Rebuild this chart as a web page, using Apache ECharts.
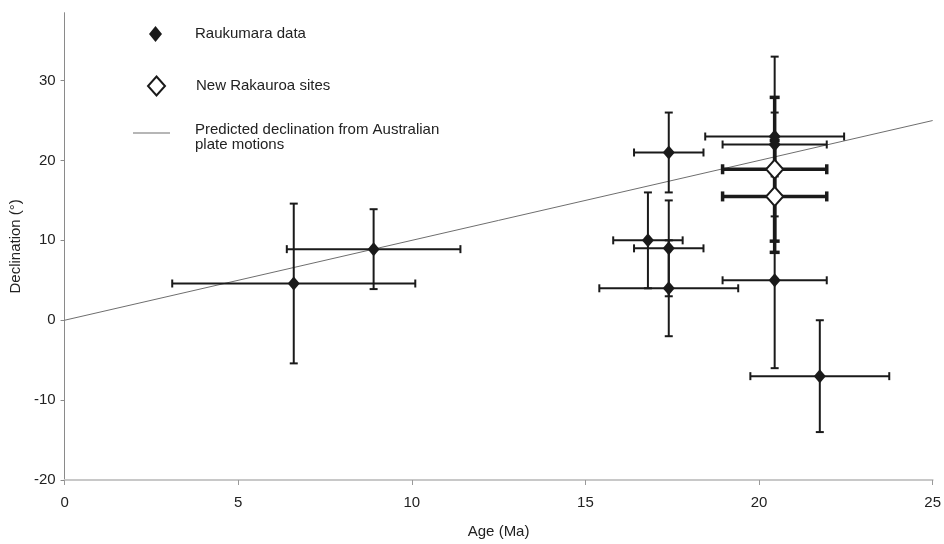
<!DOCTYPE html>
<html>
<head>
<meta charset="utf-8">
<script src="https://cdn.jsdelivr.net/npm/echarts@6/dist/echarts.min.js"></script>
<style>
  html, body { margin: 0; padding: 0; background: #fff; }
  #chart { width: 944px; height: 544px; }
</style>
</head>
<body>
<div id="chart"></div>
<script>
// Raukumara palaeomagnetic declinations (age ± error, declination with lower/upper bounds)
const raukAge      = [6.6, 8.9, 16.8, 17.4, 17.4, 17.4, 20.45, 20.45, 20.45, 21.75];
const raukDecl     = [4.6, 8.9, 10, 21, 9, 4, 23, 22, 5, -7];
const raukAgeErr   = [3.5, 2.5, 1, 1, 1, 2, 2, 1.5, 1.5, 2];
const raukDeclLow  = [-5.4, 3.9, 4, 16, 3, -2, 13, 18, -6, -14];
const raukDeclHigh = [14.6, 13.9, 16, 26, 15, 10, 33, 26, 16, 0];

// New Rakauroa sites
const siteAge      = [20.45, 20.45];
const siteDecl     = [18.9, 15.5];
const siteAgeErr   = [1.5, 1.5];
const siteDeclLow  = [9.9, 8.5];
const siteDeclHigh = [27.9, 22.5];

// Predicted declination from Australian plate motions
const predAge  = [0, 25];
const predDecl = [0, 25];

// Axis ticks
const xTicks = [0, 5, 10, 15, 20, 25];
const yTicks = [-20, -10, 0, 10, 20, 30];

const FONT = "'Liberation Sans', Arial, sans-serif";
const INK = '#1a1a1a';

function rows(age, decl, err, lo, hi) {
  return age.map((a, i) => [a, decl[i], err[i], lo[i], hi[i]]);
}

// Cross-shaped error bars with end caps, positioned through the axes
function errorBars(lineWidth, capHalf) {
  return function (params, api) {
    const x = api.value(0), y = api.value(1), xe = api.value(2);
    const lo = api.value(3), hi = api.value(4);
    const l = api.coord([x - xe, y]);
    const r = api.coord([x + xe, y]);
    const b = api.coord([x, lo]);
    const t = api.coord([x, hi]);
    const style = { stroke: INK, lineWidth: lineWidth };
    const seg = (x1, y1, x2, y2) => ({ type: 'line', shape: { x1, y1, x2, y2 }, style });
    return {
      type: 'group',
      children: [
        seg(l[0], l[1], r[0], r[1]),
        seg(b[0], b[1], t[0], t[1]),
        seg(l[0], l[1] - capHalf, l[0], l[1] + capHalf),
        seg(r[0], r[1] - capHalf, r[0], r[1] + capHalf),
        seg(b[0] - capHalf, b[1], b[0] + capHalf, b[1]),
        seg(t[0] - capHalf, t[1], t[0] + capHalf, t[1])
      ]
    };
  };
}

const chart = echarts.init(document.getElementById('chart'), null, { renderer: 'canvas' });

const legendText = { fontFamily: FONT, fontSize: 15, color: '#222' };

chart.setOption({
  animation: false,
  backgroundColor: '#fff',
  textStyle: { fontFamily: FONT },
  grid: { left: 63, right: 10, top: 12.7, bottom: 59, containLabel: false },
  legend: [
    {
      data: ['Raukumara data'],
      left: 149, top: 26, padding: 0, itemWidth: 13, itemHeight: 16,
      textStyle: Object.assign({}, legendText, { padding: [0, 0, 0, 28] })
    },
    {
      data: ['New Rakauroa sites'],
      left: 147, top: 75.5, padding: 0, itemWidth: 17, itemHeight: 19,
      textStyle: Object.assign({}, legendText, { padding: [0, 0, 0, 26] })
    },
    {
      data: [{ name: 'Predicted declination from Australian plate motions', icon: 'rect' }],
      left: 133, top: 113.5, padding: 0, itemWidth: 37, itemHeight: 1,
      // a short blank first line sets the two text lines slightly below the sample line
      formatter: () => '{gap| }\nPredicted declination from Australian\nplate motions',
      textStyle: Object.assign({}, legendText, {
        lineHeight: 15, padding: [0, 0, 0, 20],
        rich: { gap: { fontSize: 1, lineHeight: 9, height: 9 } }
      })
    }
  ],
  xAxis: {
    type: 'value',
    min: 0, max: 25, interval: 5,
    name: 'Age (Ma)',
    nameLocation: 'middle',
    nameGap: 44,
    nameTextStyle: { fontFamily: FONT, fontSize: 15, color: '#222' },
    axisLine: { onZero: false, lineStyle: { color: '#c8c8c8', width: 2 } },
    axisTick: { show: true, length: 5, lineStyle: { color: '#9a9a9a', width: 1 } },
    axisLabel: { fontFamily: FONT, fontSize: 15, color: '#222', margin: 15, customValues: xTicks },
    splitLine: { show: false }
  },
  yAxis: {
    type: 'value',
    min: -20, max: 38.5,
    name: 'Declination (°)',
    nameLocation: 'middle',
    nameGap: 36,
    nameTextStyle: { fontFamily: FONT, fontSize: 15, color: '#222' },
    axisLine: { onZero: false, lineStyle: { color: '#8a8a8a', width: 1 } },
    axisTick: { show: true, length: 4, lineStyle: { color: '#8a8a8a', width: 1 }, customValues: yTicks },
    axisLabel: { fontFamily: FONT, fontSize: 15, color: '#222', margin: 9, customValues: yTicks },
    splitLine: { show: false }
  },
  series: [
    {
      name: 'Predicted declination from Australian plate motions',
      type: 'line',
      data: predAge.map((a, i) => [a, predDecl[i]]),
      symbol: 'none',
      lineStyle: { color: '#6e6e6e', width: 1 },
      itemStyle: { color: '#6e6e6e' },
      z: 1
    },
    {
      name: 'Raukumara bars',
      type: 'custom',
      renderItem: errorBars(2, 4),
      data: rows(raukAge, raukDecl, raukAgeErr, raukDeclLow, raukDeclHigh),
      encode: { x: 0, y: 1 },
      z: 2
    },
    {
      name: 'Rakauroa bars',
      type: 'custom',
      renderItem: errorBars(3.5, 5),
      data: rows(siteAge, siteDecl, siteAgeErr, siteDeclLow, siteDeclHigh),
      encode: { x: 0, y: 1 },
      z: 3
    },
    {
      name: 'Raukumara data',
      type: 'scatter',
      symbol: 'diamond',
      symbolSize: [12, 14],
      data: raukAge.map((a, i) => [a, raukDecl[i]]),
      itemStyle: { color: INK, opacity: 1 },
      z: 4
    },
    {
      name: 'New Rakauroa sites',
      type: 'scatter',
      symbol: 'diamond',
      symbolSize: [17, 19],
      data: siteAge.map((a, i) => [a, siteDecl[i]]),
      itemStyle: { color: '#ffffff', borderColor: INK, borderWidth: 2, opacity: 1 },
      z: 5
    }
  ]
});
</script>
</body>
</html>
